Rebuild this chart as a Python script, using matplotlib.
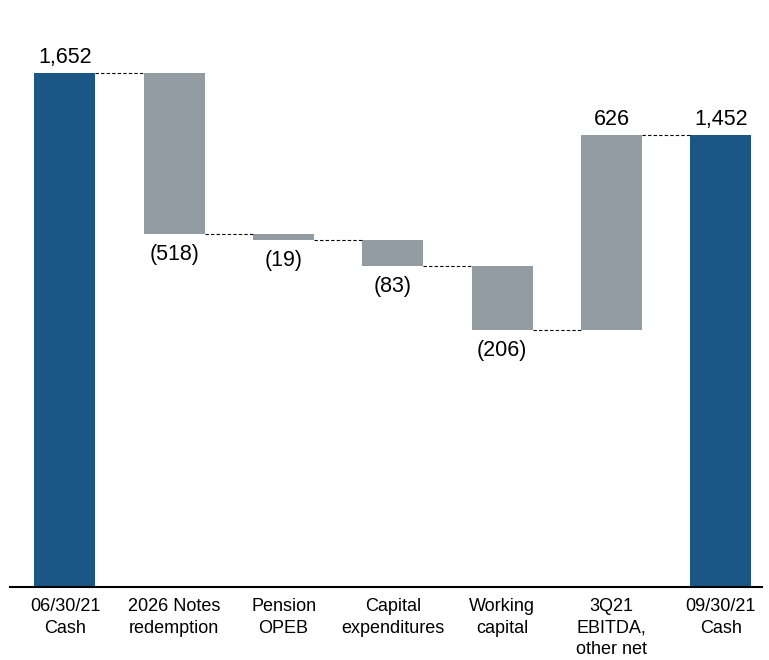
import matplotlib.pyplot as plt
import numpy as np

plt.rcParams['font.family'] = ['Liberation Sans', 'DejaVu Sans']

categories = ["06/30/21\nCash", "2026 Notes\nredemption", "Pension\nOPEB",
              "Capital\nexpenditures", "Working\ncapital", "3Q21\nEBITDA,\nother net",
              "09/30/21\nCash"]
values = [1652, -518, -19, -83, -206, 626, 1452]
is_total = [True, False, False, False, False, False, True]

blue = "#1a5686"
gray = "#939ca2"

fig = plt.figure(figsize=(7.69, 6.60), dpi=100)
ax = fig.add_axes([10 / 769, 73 / 660, 752 / 769, 557 / 660])

x = np.arange(len(values))
w = 0.558
running = 0
bottoms, heights, levels = [], [], []
for v, tot in zip(values, is_total):
    if tot:
        bottoms.append(0)
        heights.append(v)
        running = v
    else:
        bottoms.append(running + min(v, 0))
        heights.append(abs(v))
        running += v
    levels.append(running)

colors = [blue if t else gray for t in is_total]
ax.bar(x, heights, bottom=bottoms, width=w, color=colors, edgecolor='none')

# connectors
for i in range(len(values) - 1):
    ax.plot([x[i] + w / 2, x[i + 1] - w / 2], [levels[i], levels[i]],
            color='black', lw=0.8, ls=(0, (3, 2)))

# labels
for i, v in enumerate(values):
    if v >= 0:
        ax.text(x[i], bottoms[i] + heights[i] + 32, f"{v:,}", ha='center', va='baseline', fontsize=15.5)
    else:
        ax.text(x[i], bottoms[i] - 32, f"({abs(v)})", ha='center', va='top', fontsize=15.5)

ax.set_xlim(-0.503, 6.377)
ax.set_ylim(0, 1791)
ax.set_xticks(x)
ax.set_xticklabels(categories, fontsize=13, linespacing=1.35)
ax.tick_params(axis='x', length=0, pad=8)
ax.set_yticks([])
for s in ['top', 'right', 'left']:
    ax.spines[s].set_visible(False)
ax.spines['bottom'].set_linewidth(1.5)

fig.savefig("out.png", dpi=100)
